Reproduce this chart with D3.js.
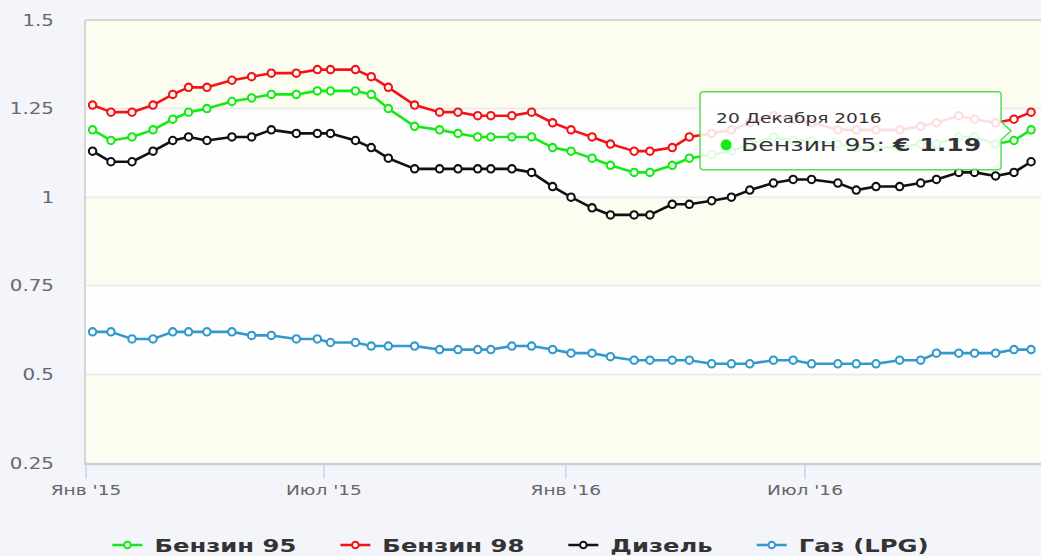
<!DOCTYPE html>
<html>
<head>
<meta charset="utf-8">
<script src="https://cdn.jsdelivr.net/npm/d3@7"></script>
<style>
 body { margin: 0; background: #f4f4fb; overflow: hidden; }
 svg text { font-family: "DejaVu Sans", Verdana, sans-serif; }
</style>
</head>
<body>
<svg id="chart" width="1041" height="556"></svg>
<script>
 // data
 var dates = [
   "2015-01-06","2015-01-20","2015-02-05","2015-02-21","2015-03-08","2015-03-20",
   "2015-04-03","2015-04-22","2015-05-07","2015-05-22","2015-06-10","2015-06-26",
   "2015-07-06","2015-07-25","2015-08-06","2015-08-19","2015-09-08","2015-09-27",
   "2015-10-11","2015-10-26","2015-11-05","2015-11-21","2015-12-06","2015-12-22",
   "2016-01-05","2016-01-21","2016-02-04","2016-02-22","2016-03-05","2016-03-22",
   "2016-04-04","2016-04-21","2016-05-06","2016-05-20","2016-06-07","2016-06-22",
   "2016-07-06","2016-07-26","2016-08-09","2016-08-24","2016-09-11","2016-09-27",
   "2016-10-09","2016-10-26","2016-11-07","2016-11-23","2016-12-07","2016-12-20"
 ];
 var benzin95 = [1.19,1.16,1.17,1.19,1.22,1.24,1.25,1.27,1.28,1.29,1.29,1.30,1.30,
                 1.30,1.29,1.25,1.20,1.19,1.18,1.17,1.17,1.17,1.17,1.14,1.13,
                 1.11,1.09,1.07,1.07,1.09,1.11,
                 1.12,1.13,1.15,1.17,1.16,1.16,1.15,1.14,1.14,1.14,1.15,1.15,1.17,1.17,1.15,1.16,1.19];
 var benzin98 = [1.26,1.24,1.24,1.26,1.29,1.31,1.31,1.33,1.34,1.35,1.35,1.36,1.36,
                 1.36,1.34,1.31,1.26,1.24,1.24,1.23,1.23,1.23,1.24,1.21,1.19,
                 1.17,1.15,1.13,1.13,1.14,1.17,
                 1.18,1.19,1.21,1.23,1.22,1.21,1.19,1.19,1.19,1.19,1.20,1.21,1.23,1.22,1.21,1.22,1.24];
 var dizel = [1.13,1.10,1.10,1.13,1.16,1.17,1.16,1.17,1.17,1.19,1.18,1.18,1.18,
              1.16,1.14,1.11,1.08,1.08,1.08,1.08,1.08,1.08,1.07,1.03,1.00,
              0.97,0.95,0.95,0.95,0.98,0.98,0.99,1.00,1.02,1.04,1.05,1.05,
              1.04,1.02,1.03,1.03,1.04,1.05,1.07,1.07,1.06,1.07,1.10];
 var gaz = [0.62,0.62,0.60,0.60,0.62,0.62,0.62,0.62,0.61,0.61,0.60,0.60,0.59,0.59,0.58,0.58,
            0.58,0.57,0.57,0.57,0.57,0.58,
            0.58,0.57,0.56,0.56,0.55,0.54,0.54,0.54,0.54,0.53,0.53,0.53,0.54,0.54,0.53,0.53,
            0.53,0.53,0.54,0.54,0.56,0.56,0.56,0.56,0.57,0.57];

 var seriesNames = ["Бензин 95", "Бензин 98", "Дизель", "Газ (LPG)"];
 var seriesColors = ["#14ea14", "#f21414", "#111111", "#3399cc"];
 var yTicks = [0.25, 0.5, 0.75, 1, 1.25, 1.5];
 var xTickDates = ["2015-01-01", "2015-07-01", "2016-01-01", "2016-07-01"];
 var xTickLabels = ["Янв '15", "Июл '15", "Янв '16", "Июл '16"];
 var monthsGen = ["Января","Февраля","Марта","Апреля","Мая","Июня",
                  "Июля","Августа","Сентября","Октября","Ноября","Декабря"];

 var SX = 1.28; // text in the picture is drawn wide
 var parse = d3.timeParse("%Y-%m-%d");

 var svg = d3.select("#chart");
 var W = 1041, H = 556;
 var pLeft = 86, pTop = 20, pBottom = 463, pRight = 1045;

 var x = d3.scaleTime()
           .domain([parse(xTickDates[0]), parse(xTickDates[3])])
           .range([86, 805]);
 var y = d3.scaleLinear().domain([0.25, 1.5]).range([pBottom, pTop]);

 var series = [benzin95, benzin98, dizel, gaz].map(function(vals, i) {
   return {
     name: seriesNames[i],
     color: seriesColors[i],
     points: vals.map(function(v, j) { return {date: parse(dates[j]), value: v}; })
   };
 });

 // bands
 var plot = svg.append("g");
 d3.pairs(yTicks).forEach(function(p, i) {
   plot.append("rect")
       .attr("x", pLeft).attr("width", pRight - pLeft)
       .attr("y", y(p[1])).attr("height", y(p[0]) - y(p[1]))
       .attr("fill", i % 2 == 0 ? "#fcfcf1" : "#fefefe");
 });
 yTicks.slice(1, -1).forEach(function(t) {
   plot.append("line")
       .attr("x1", pLeft).attr("x2", pRight)
       .attr("y1", y(t)).attr("y2", y(t))
       .attr("stroke", "#ececec").attr("stroke-width", 2);
 });
 plot.append("line").attr("x1", pLeft).attr("x2", pRight)
     .attr("y1", pTop).attr("y2", pTop)
     .attr("stroke", "#d6d6d6").attr("stroke-width", 2);
 plot.append("line").attr("x1", pLeft - 1).attr("x2", pLeft - 1)
     .attr("y1", pTop).attr("y2", pBottom)
     .attr("stroke", "#d6d6d6").attr("stroke-width", 2);
 plot.append("line").attr("x1", pLeft - 2).attr("x2", pRight)
     .attr("y1", pBottom + 1).attr("y2", pBottom + 1)
     .attr("stroke", "#c9cfdd").attr("stroke-width", 2.5);

 // y labels
 svg.append("g").selectAll("text")
    .data(yTicks).enter().append("text")
    .attr("transform", function(d) { return "translate(54," + y(d) + ") scale(" + SX + ",1)"; })
    .attr("dy", 5.5)
    .attr("text-anchor", "end")
    .attr("font-size", 15.5)
    .attr("fill", "#686872")
    .text(function(d) { return String(d); });

 // x ticks
 var xt = svg.append("g").selectAll("g")
    .data(xTickDates).enter().append("g")
    .attr("transform", function(d) { return "translate(" + x(parse(d)) + ",0)"; });
 xt.append("line").attr("y1", pBottom + 2).attr("y2", pBottom + 16)
   .attr("stroke", "#cfd4e2").attr("stroke-width", 1.5);
 xt.append("text")
   .attr("transform", "translate(0," + (pBottom + 32) + ") scale(" + SX + ",1)")
   .attr("text-anchor", "middle")
   .attr("font-size", 14.5)
   .attr("fill", "#666")
   .text(function(d, i) { return xTickLabels[i]; });

 // lines
 var line = d3.line()
              .x(function(d) { return x(d.date); })
              .y(function(d) { return y(d.value); });
 var lines = svg.append("g");
 series.forEach(function(s) {
   var g = lines.append("g");
   g.append("path").datum(s.points)
    .attr("d", line)
    .attr("fill", "none")
    .attr("stroke", s.color)
    .attr("stroke-width", 2.6)
    .attr("stroke-linejoin", "round");
   g.selectAll("circle").data(s.points).enter().append("circle")
    .attr("cx", function(d) { return x(d.date); })
    .attr("cy", function(d) { return y(d.value); })
    .attr("r", 3.7)
    .attr("fill", "#fff")
    .attr("stroke", s.color)
    .attr("stroke-width", 2.1);
 });

 // tooltip on last Бензин 95 point
 var hp = series[0].points[series[0].points.length - 1];
 var px = x(hp.date), py = y(hp.value);
 var tx = px - 331, ty = py - 38, tw = 301, th = 75;
 var tip = svg.append("g");
 tip.append("path")
    .attr("d", "M" + tx + "," + (ty + 3) + "q0,-3 3,-3 h" + (tw - 6) + "q3,0 3,3 v" + (py - ty - 11) +
               " l10,9 l-10,9 v" + (ty + th - py - 10) + "q0,3 -3,3 h" + (-(tw - 6)) + "q-3,0 -3,-3 z")
    .attr("fill", "rgba(255,255,255,0.86)")
    .attr("stroke", "#55dd55")
    .attr("stroke-width", 1.5);
 tip.append("text")
    .attr("transform", "translate(" + (tx + 16) + "," + (ty + 31) + ") scale(" + SX + ",1)")
    .attr("font-size", 14.5)
    .attr("fill", "#333")
    .text(hp.date.getDate() + " " + monthsGen[hp.date.getMonth()] + " " + hp.date.getFullYear());
 tip.append("circle")
    .attr("cx", tx + 26).attr("cy", ty + 53).attr("r", 5.5)
    .attr("fill", series[0].color);
 var row = tip.append("text")
    .attr("transform", "translate(" + (tx + 41) + "," + (ty + 59) + ") scale(1.36,1)")
    .attr("font-size", 18.5)
    .attr("fill", "#333");
 row.append("tspan").text(series[0].name + ": ");
 row.append("tspan").attr("font-weight", "bold").text("€ " + hp.value.toFixed(2));

 // legend
 var LSX = 1.35, gap = 44;
 var leg = svg.append("g");
 var cx = 0;
 series.forEach(function(s) {
   var it = leg.append("g").attr("transform", "translate(" + cx + ",0)");
   it.append("line").attr("x1", 0).attr("x2", 30)
     .attr("stroke", s.color).attr("stroke-width", 2.5);
   it.append("circle").attr("cx", 15).attr("r", 3.3)
     .attr("fill", "#fff").attr("stroke", s.color).attr("stroke-width", 2);
   var t = it.append("text")
     .attr("transform", "translate(42,6.5) scale(" + LSX + ",1)")
     .attr("font-size", 18)
     .attr("font-weight", "bold")
     .attr("fill", "#333")
     .text(s.name);
   cx += 42 + t.node().getComputedTextLength() * LSX + gap;
 });
 var legW = cx - gap;
 leg.attr("transform", "translate(" + ((W - legW) / 2) + ",545)");
</script>
</body>
</html>
